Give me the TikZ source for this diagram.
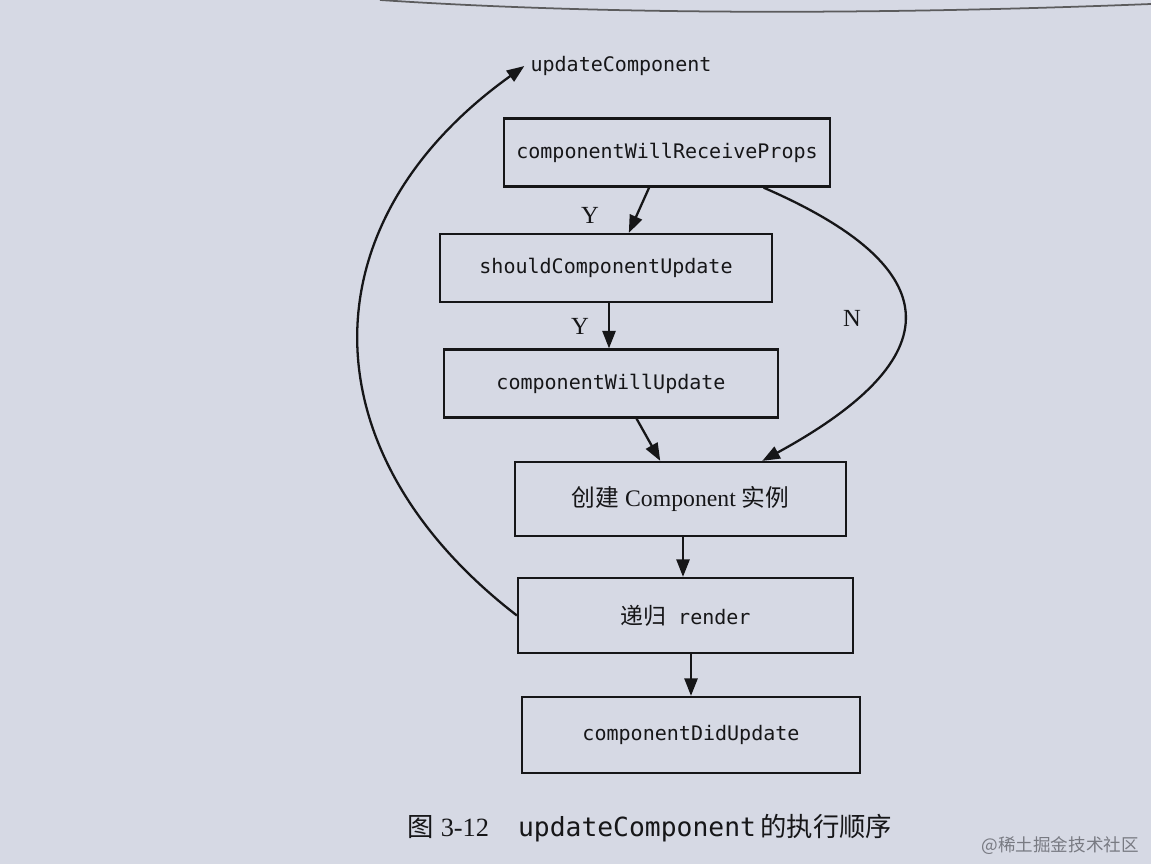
\documentclass[tikz,border=0pt]{standalone}
\usepackage{fontspec}
\setmainfont{Liberation Serif}
\setmonofont{DejaVu Sans Mono}
\newfontfamily\cjk{Noto Sans CJK SC}
\usetikzlibrary{arrows.meta}
\definecolor{paper}{RGB}{214,217,228}
\definecolor{ink}{RGB}{22,22,24}
\definecolor{mark}{RGB}{120,122,130}
\begin{document}
\begin{tikzpicture}[x=0.02cm, y=-0.02cm,
    stage/.style={draw=ink, line width=1.3pt, minimum height=1.36cm,
      font=\ttfamily\fontsize{11.4}{13}\selectfont, text=ink},
    flow/.style={draw=ink, line width=1.3pt, -{Triangle[length=10pt,width=7.5pt]}},
    answer/.style={font=\fontsize{14}{16}\selectfont, text=ink}]
                    % Page
                    \fill[paper] (0,0) rectangle (1151,864);
                    \useasboundingbox (0,0) rectangle (1151,864);
                    \draw[ink!70, line width=1pt] (380,0) .. controls (620,16) and (900,14) .. (1151,4);
                    % Stages
                    \node[font=\ttfamily\fontsize{11.4}{13}\selectfont, text=ink] (upd) at (621,66) {updateComponent};
                    \node[stage, minimum width=6.52cm] (cwrp) at (667,152.5) {componentWillReceiveProps};
                    \node[stage, minimum width=6.64cm] (scu) at (606,268) {shouldComponentUpdate};
                    \node[stage, minimum width=6.68cm] (cwu) at (611,383.5) {componentWillUpdate};
                    \node[stage, minimum width=6.62cm, minimum height=1.48cm, font=\fontsize{13.5}{15}\selectfont] (create) at (680.5,499) {{\cjk 创建} Component {\cjk 实例}};
                    \node[stage, minimum width=6.7cm, minimum height=1.5cm] (render) at (685.5,615.5) {{\cjk\fontsize{13}{15}\selectfont 递归} render};
                    \node[stage, minimum width=6.76cm, minimum height=1.52cm] (cdu) at (691,735) {componentDidUpdate};
                    % Straight arrows
                    \draw[flow] (cwrp.-117) -- (scu.57);
                    \draw[flow] ([xshift=0.06cm]scu.south) -- ([xshift=0.06cm]scu.south |- cwu.north);
                    \draw[flow] (cwu.-54) -- (create.118);
                    \draw[flow] ([xshift=0.05cm]create.south) -- ([xshift=0.05cm]create.south |- render.north);
                    \draw[flow] (render.south -| cdu) -- (cdu.north);
                    \node[answer] (y1) at (590,215) {Y};
                    \node[answer] (y2) at (580,326) {Y};
                    % N branch
                    \draw[flow] (cwrp.-20) .. controls (951,269) and (951,358) .. (create.25);
                    \node[answer] (n1) at (852,318) {N};
                    % Loop back
                    \draw[flow] (render.west) .. controls (305,452) and (305,223) .. (upd.west);
                    % Caption
                    \node[text=ink, font=\fontsize{15}{17}\selectfont] (cap) at (650,828) {{\cjk 图} 3-12\hspace{1.1em}{\ttfamily updateComponent}\,{\cjk 的执行顺序}};
                    \node[text=mark, anchor=east, font=\cjk\fontsize{10}{12}\selectfont] (wm) at (1145,846) {@稀土掘金技术社区};
\end{tikzpicture}
\end{document}
